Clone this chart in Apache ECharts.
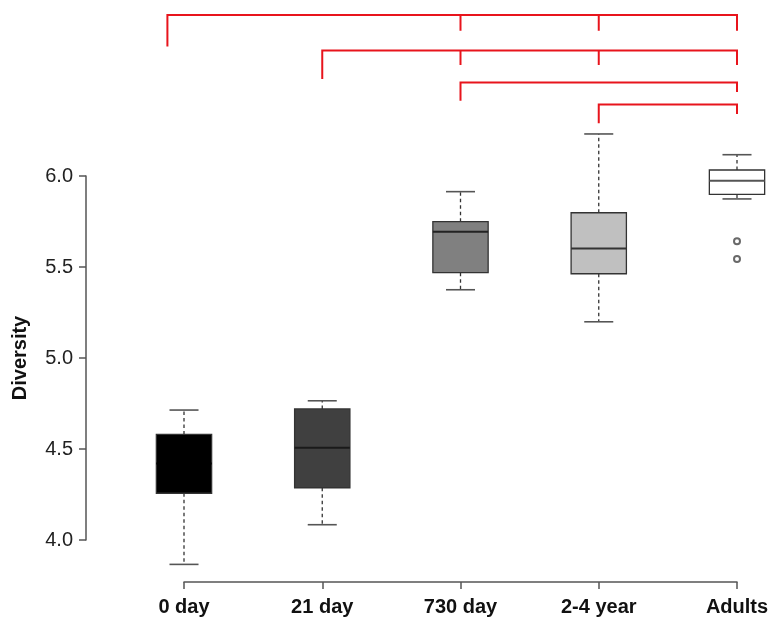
<!DOCTYPE html>
<html>
<head>
<meta charset="utf-8">
<script src="https://cdn.jsdelivr.net/npm/echarts@6/dist/echarts.min.js"></script>
<style>html,body{margin:0;padding:0;background:#fff}#c{width:777px;height:630px}</style>
</head>
<body>
<div id="c"></div>
<script>
var categories = ['0 day', '21 day', '730 day', '2-4 year', 'Adults'];
var lowerWhisker = [3.866, 4.084, 5.375, 5.199, 5.874];
var q1 = [4.257, 4.287, 5.469, 5.463, 5.899];
var median = [4.42, 4.507, 5.694, 5.601, 5.974];
var q3 = [4.58, 4.72, 5.749, 5.798, 6.033];
var upperWhisker = [4.714, 4.765, 5.914, 6.231, 6.117];
var outliers = [[4, 5.641], [4, 5.544]];
var yTicks = [4.0, 4.5, 5.0, 5.5, 6.0];

// significance brackets
var bracketStart = [-0.12, 1, 2, 3];
var bracketEnd = [4, 4, 4, 4];
var bracketTop = [6.885, 6.690, 6.514, 6.393];
var bracketLeftEnd = [6.712, 6.533, 6.414, 6.290];
var bracketRightEnd = [6.798, 6.610, 6.462, 6.341];
var bracketTicks = [[2, 3], [2, 3], [], []];

var fills = ['#000000', '#404040', '#808080', '#c0c0c0', '#ffffff'];
var medianColors = ['#000000', '#1a1a1a', '#222222', '#333333', '#555555'];
var FONT = 'Liberation Sans, Arial, sans-serif';

var boxData = categories.map(function (c, i) {
  return [i, lowerWhisker[i], q1[i], median[i], q3[i], upperWhisker[i]];
});
var bracketData = bracketStart.map(function (s, i) {
  return [s, bracketEnd[i], bracketTop[i], bracketLeftEnd[i], bracketRightEnd[i], i];
});

var chart = echarts.init(document.getElementById('c'), null, {renderer: 'canvas'});
chart.setOption({
  backgroundColor: '#ffffff',
  animation: false,
  grid: {left: 184, right: 40, top: 176, bottom: 90},
  xAxis: [{
    type: 'category',
    data: categories,
    boundaryGap: false,
    offset: 42,
    axisLine: {onZero: false, lineStyle: {color: '#555', width: 1.5}},
    axisTick: {length: 7, interval: 0, lineStyle: {color: '#555', width: 1.5}},
    axisLabel: {interval: 0, margin: 15, fontSize: 20, fontWeight: 'bold', color: '#111', fontFamily: FONT},
    splitLine: {show: false}
  }, {
    type: 'value', min: 0, max: 4, show: false
  }],
  yAxis: [{
    type: 'value',
    min: 4, max: 6, interval: 0.5,
    offset: 98,
    name: 'Diversity',
    nameLocation: 'middle',
    nameRotate: 90,
    nameGap: 56,
    nameTextStyle: {fontSize: 20, fontWeight: 'bold', color: '#111', fontFamily: FONT},
    axisLine: {show: true, onZero: false, lineStyle: {color: '#555', width: 1.5}},
    axisTick: {show: true, length: 7, lineStyle: {color: '#555', width: 1.5}},
    axisLabel: {margin: 13, fontSize: 20, color: '#222', fontFamily: FONT,
      formatter: function (v) { return v.toFixed(1); }},
    splitLine: {show: false}
  }],
  series: [{
    type: 'custom',
    xAxisIndex: 0,
    yAxisIndex: 0,
    clip: false,
    data: boxData,
    encode: {x: 0, y: [1, 2, 3, 4, 5]},
    renderItem: function (params, api) {
      var idx = api.value(0);
      var pLow = api.coord([idx, api.value(1)]);
      var pQ1 = api.coord([idx, api.value(2)]);
      var pMed = api.coord([idx, api.value(3)]);
      var pQ3 = api.coord([idx, api.value(4)]);
      var pHigh = api.coord([idx, api.value(5)]);
      var band = api.size([1, 0])[0];
      var hw = band * 0.2;
      var cw = band * 0.105;
      var cx = pMed[0];
      return {
        type: 'group',
        children: [
          {type: 'line', shape: {x1: cx, y1: pQ3[1], x2: cx, y2: pHigh[1]},
            style: {stroke: '#333', lineWidth: 1.3, lineDash: [3.5, 3]}},
          {type: 'line', shape: {x1: cx, y1: pQ1[1], x2: cx, y2: pLow[1]},
            style: {stroke: '#333', lineWidth: 1.3, lineDash: [3.5, 3]}},
          {type: 'line', shape: {x1: cx - cw, y1: pHigh[1], x2: cx + cw, y2: pHigh[1]},
            style: {stroke: '#555', lineWidth: 1.6}},
          {type: 'line', shape: {x1: cx - cw, y1: pLow[1], x2: cx + cw, y2: pLow[1]},
            style: {stroke: '#555', lineWidth: 1.6}},
          {type: 'rect', shape: {x: cx - hw, y: pQ3[1], width: hw * 2, height: pQ1[1] - pQ3[1]},
            style: {fill: fills[idx], stroke: '#333', lineWidth: 1.3}},
          {type: 'line', shape: {x1: cx - hw, y1: pMed[1], x2: cx + hw, y2: pMed[1]},
            style: {stroke: medianColors[idx], lineWidth: 2}}
        ]
      };
    }
  }, {
    type: 'scatter',
    xAxisIndex: 0,
    yAxisIndex: 0,
    data: outliers,
    symbol: 'emptyCircle',
    symbolSize: 6,
    clip: false,
    itemStyle: {color: '#444', borderColor: '#444', borderWidth: 1.2}
  }, {
    type: 'custom',
    xAxisIndex: 1,
    yAxisIndex: 0,
    clip: false,
    data: bracketData,
    encode: {x: [0, 1], y: [2, 3, 4]},
    renderItem: function (params, api) {
      var s = api.value(0), e = api.value(1), top = api.value(2);
      var le = api.value(3), re = api.value(4), bi = api.value(5);
      var pts = [api.coord([s, le]), api.coord([s, top]), api.coord([e, top]), api.coord([e, re])];
      var children = [{type: 'polyline', shape: {points: pts},
        style: {stroke: '#e8141c', lineWidth: 2, fill: null, lineJoin: 'miter'}}];
      bracketTicks[bi].forEach(function (t) {
        var a = api.coord([t, top]), b = api.coord([t, re]);
        children.push({type: 'line', shape: {x1: a[0], y1: a[1], x2: b[0], y2: b[1]},
          style: {stroke: '#e8141c', lineWidth: 2}});
      });
      return {type: 'group', children: children};
    }
  }]
});
</script>
</body>
</html>
